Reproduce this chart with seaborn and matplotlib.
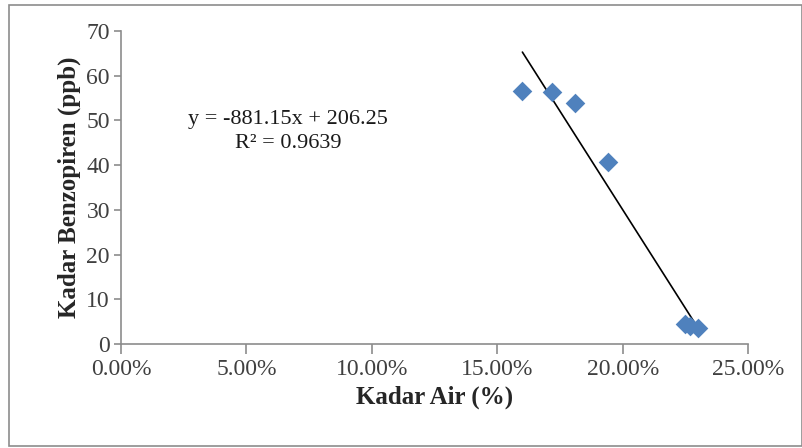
"""Kadar air vs kadar benzopiren, scatter + trendline (gaya Excel)."""
import numpy as np
import pandas as pd
import matplotlib
matplotlib.use("Agg")
import matplotlib.pyplot as plt
import matplotlib.patches as mpatches
from matplotlib.ticker import PercentFormatter, MultipleLocator
import seaborn as sns

# Data
kadar_air = [0.160, 0.172, 0.181, 0.194, 0.225, 0.227, 0.230]
benzopiren = [56.6, 56.4, 53.8, 40.6, 4.4, 4.1, 3.7]

# Koefisien trendline (dari persamaan pada grafik)
slope = -881.15
intercept = 206.25
r2 = 0.9639

df = pd.DataFrame({"air": kadar_air, "bap": benzopiren})

sns.set_style("ticks")
plt.rcParams["font.family"] = ["Liberation Serif", "DejaVu Serif"]

fig = plt.figure(figsize=(8.03, 4.48), dpi=100)
ax = fig.add_axes([0.1507, 0.232, 0.781, 0.699])

# garis tren
xs = np.array([min(kadar_air), max(kadar_air)])
ax.plot(xs, slope * xs + intercept, color="black", lw=1.2, zorder=2)

sns.scatterplot(data=df, x="air", y="bap", ax=ax, marker="D", s=100,
                color="#4F81BD", edgecolor="#4F81BD", linewidth=0, zorder=3)

ax.set_xlim(0, 0.25)
ax.set_ylim(0, 70)
ax.xaxis.set_major_locator(MultipleLocator(0.05))
ax.yaxis.set_major_locator(MultipleLocator(10))
ax.xaxis.set_major_formatter(PercentFormatter(xmax=1, decimals=2))

ax.set_xlabel("Kadar Air (%)", fontsize=18, fontweight="bold", labelpad=4)
ax.set_ylabel("Kadar Benzopiren (ppb)", fontsize=18, fontweight="bold", labelpad=4)

for side in ["top", "right"]:
    ax.spines[side].set_visible(False)
for side in ["left", "bottom"]:
    ax.spines[side].set_color("#8c8c8c")
    ax.spines[side].set_linewidth(1.2)
ax.tick_params(axis="both", colors="#8c8c8c", labelcolor="#404040",
               labelsize=17, width=1.2)
ax.tick_params(axis="x", length=7, pad=4)
ax.tick_params(axis="y", length=5, pad=3)

ax.text(0.266, 0.68, f"y = {slope}x + {intercept}\nR² = {r2}",
        transform=ax.transAxes, ha="center", va="center",
        multialignment="center", fontsize=16, color="#1a1a1a",
        linespacing=1.35)

# bingkai luar
fig.patches.append(mpatches.Rectangle(
    (0.0106, 0.004), 0.988, 0.985, transform=fig.transFigure,
    fill=False, edgecolor="#8c8c8c", lw=1.2))

fig.savefig("out.png", dpi=100)
plt.close(fig)
